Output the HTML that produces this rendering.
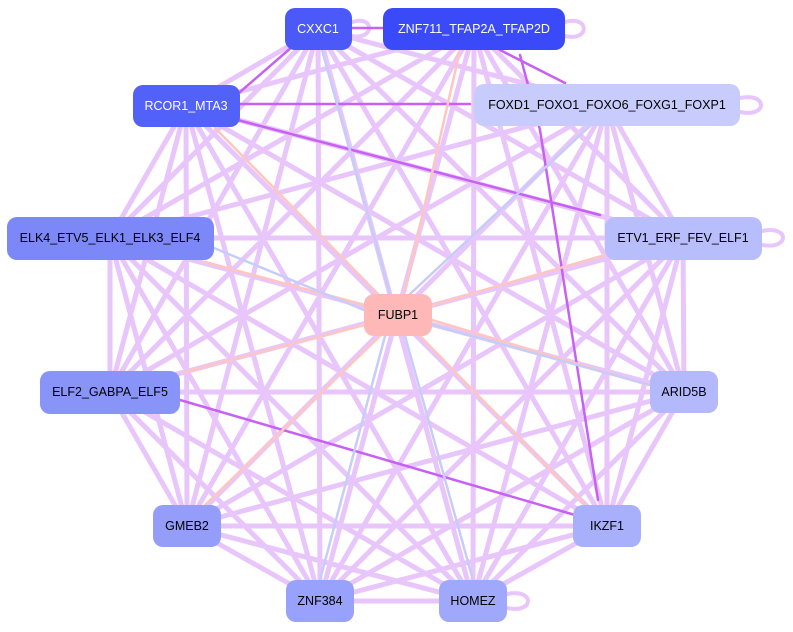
<!DOCTYPE html>
<html><head><meta charset="utf-8"><style>
html,body{margin:0;padding:0;background:#fff;}
svg{display:block;font-family:"Liberation Sans",Arial,sans-serif;}
</style></head><body>
<svg width="793" height="632" viewBox="0 0 793 632" xmlns="http://www.w3.org/2000/svg">
<g fill="none" stroke="#e8c6fb" stroke-width="5" stroke-linecap="round">
<path d="M318 29L186 106 M318 29L607 105 M318 29L110 238 M318 29L683 238 M318 29L110 392 M318 29L684 392 M318 29L187 526 M318 29L607 526 M318 29L320 601 M318 29L473 601
M474 29L186 106 M474 29L110 238 M474 29L683 238 M474 29L110 392 M474 29L684 392 M474 29L187 526 M474 29L607 526 M474 29L320 601 M474 29L473 601
M186 106L110 238 M186 106L683 238 M186 106L110 392 M186 106L684 392 M186 106L187 526 M186 106L607 526 M186 106L320 601 M186 106L473 601
M607 105L110 238 M607 105L683 238 M607 105L110 392 M607 105L684 392 M607 105L187 526 M607 105L607 526 M607 105L320 601 M607 105L473 601
M110 238L683 238 M110 238L110 392 M110 238L684 392 M110 238L187 526 M110 238L607 526 M110 238L320 601 M110 238L473 601
M683 238L110 392 M683 238L684 392 M683 238L187 526 M683 238L607 526 M683 238L320 601 M683 238L473 601
M110 392L684 392 M110 392L187 526 M110 392L320 601 M110 392L473 601
M684 392L187 526 M684 392L607 526 M684 392L320 601 M684 392L473 601
M187 526L607 526 M187 526L320 601 M187 526L473 601
M607 526L320 601 M607 526L473 601 M320 601L473 601"/>
<path stroke-width="4" d="M352 22C375 15 375 40 352 36 M565 22C590 15 590 42 565 36 M740 98C768 92 768 118 740 112 M762 231C790 225 790 250 762 245 M507 594C535 588 535 614 507 608"/>
</g>
<g fill="none" stroke-width="2.5" stroke-linecap="round">
<path stroke="#c860f4" d="M240 104L470 104 M230 118L600 215 M500 50L565 83 M300 40L240 92 M520 55L540 130L598 500 M180 400L575 515 M350 28L383 28"/>
<path stroke="#ffc6c0" d="M460 50L405 292 M215 128L380 296 M364 305L205 262 M432 305L605 255 M432 320L648 385 M420 336L585 505 M364 325L185 372 M380 336L205 505"/>
<path stroke="#c6cdf8" d="M322 50L390 294 M590 126L410 294 M320 580L385 336 M473 580L405 336 M650 385L432 325 M214 248L364 310"/>
</g>
<g font-size="12.5" text-anchor="middle" dominant-baseline="central">
<rect x="285" y="8" width="67" height="42" rx="10" fill="#4a59f8"/><text x="318" y="29" fill="#fff">CXXC1</text>
<rect x="383" y="8" width="182" height="42" rx="10" fill="#3a4af8"/><text x="474" y="29" fill="#fff">ZNF711_TFAP2A_TFAP2D</text>
<rect x="133" y="85" width="107" height="42" rx="10" fill="#5262f8"/><text x="186" y="106" fill="#fff">RCOR1_MTA3</text>
<rect x="474" y="84" width="266" height="42" rx="10" fill="#c8ccfc"/><text x="607" y="105" fill="#000">FOXD1_FOXO1_FOXO6_FOXG1_FOXP1</text>
<rect x="7" y="217" width="207" height="43" rx="10" fill="#7c88f8"/><text x="110" y="238" fill="#000">ELK4_ETV5_ELK1_ELK3_ELF4</text>
<rect x="605" y="217" width="157" height="43" rx="10" fill="#b8bdfc"/><text x="683" y="238" fill="#000">ETV1_ERF_FEV_ELF1</text>
<rect x="364" y="294" width="68" height="42" rx="10" fill="#ffb8b8"/><text x="398" y="315" fill="#000">FUBP1</text>
<rect x="40" y="371" width="140" height="43" rx="10" fill="#8894f8"/><text x="110" y="392" fill="#000">ELF2_GABPA_ELF5</text>
<rect x="650" y="371" width="68" height="42" rx="10" fill="#b4b9fc"/><text x="684" y="392" fill="#000">ARID5B</text>
<rect x="153" y="505" width="68" height="42" rx="10" fill="#949df8"/><text x="187" y="526" fill="#000">GMEB2</text>
<rect x="573" y="505" width="68" height="42" rx="10" fill="#a8b0fc"/><text x="607" y="526" fill="#000">IKZF1</text>
<rect x="286" y="580" width="68" height="42" rx="10" fill="#98a1fc"/><text x="320" y="601" fill="#000">ZNF384</text>
<rect x="439" y="580" width="68" height="42" rx="10" fill="#a0a8fc"/><text x="473" y="601" fill="#000">HOMEZ</text>
</g>
</svg>
</body></html>
